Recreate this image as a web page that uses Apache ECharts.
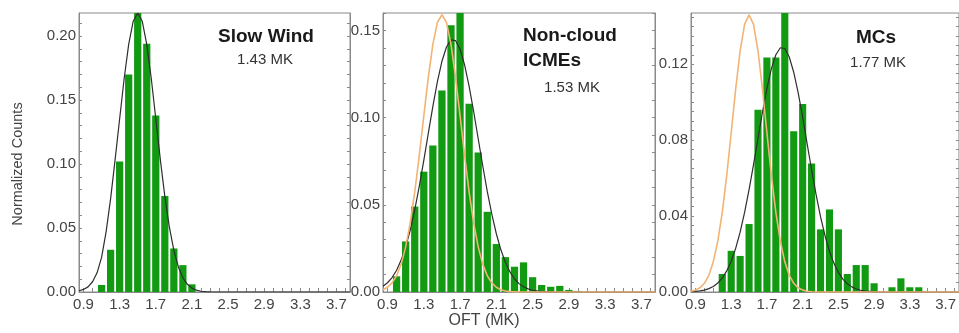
<!DOCTYPE html>
<html><head><meta charset="utf-8">
<script src="https://cdn.jsdelivr.net/npm/echarts@6/dist/echarts.min.js"></script>
<style>html,body{margin:0;padding:0;background:#fff}#c{width:959px;height:333px}</style>
</head><body><div id="c"></div>
<script>
// ---- data ----
const xTickLabels = [0.9, 1.3, 1.7, 2.1, 2.5, 2.9, 3.3, 3.7];
const yLabelsSlow = [0.00, 0.05, 0.10, 0.15, 0.20];
const yLabelsNC = [0.00, 0.05, 0.10, 0.15];
const yLabelsMC = [0.00, 0.04, 0.08, 0.12];

const slowBins = [1.1, 1.2, 1.3, 1.4, 1.5, 1.6, 1.7, 1.8, 1.9, 2.0, 2.1];
const slowCounts = [0.0055, 0.033, 0.102, 0.170, 0.225, 0.194, 0.138, 0.075, 0.034, 0.021, 0.006];

const ncBins = [1.0, 1.1, 1.2, 1.3, 1.4, 1.5, 1.6, 1.7, 1.8, 1.9, 2.0, 2.1, 2.2, 2.3, 2.4, 2.5, 2.6, 2.7, 2.8, 2.9, 3.0];
const ncCounts = [0.009, 0.029, 0.049, 0.069, 0.084, 0.1155, 0.153, 0.170, 0.108, 0.080, 0.046, 0.0275, 0.020, 0.0145, 0.017, 0.0085, 0.004, 0.003, 0.0035, 0.0012, 0.0006];

const mcBins = [1.2, 1.3, 1.4, 1.5, 1.6, 1.7, 1.8, 1.9, 2.0, 2.1, 2.2, 2.3, 2.4, 2.5, 2.6, 2.7, 2.8, 2.9, 3.0, 3.1, 3.2, 3.3, 3.4];
const mcCounts = [0.0095, 0.0217, 0.019, 0.0358, 0.096, 0.1235, 0.1235, 0.155, 0.0847, 0.099, 0.0677, 0.033, 0.0435, 0.033, 0.0095, 0.0142, 0.0142, 0.0046, 0, 0.0025, 0.0072, 0.0025, 0.0025];

const curveX = [0.85,0.90,0.95,1.00,1.05,1.10,1.15,1.20,1.25,1.30,1.35,1.40,1.45,1.50,1.55,1.60,1.65,1.70,1.75,1.80,1.85,1.90,1.95,2.00,2.05,2.10,2.15,2.20,2.25,2.30,2.35,2.40,2.45,2.50,2.55,2.60,2.65,2.70,2.75,2.80,2.85,2.90,3.85];
const slowFit = [0.001,0.002,0.004,0.008,0.015,0.027,0.047,0.073,0.1036,0.1354,0.1668,0.1935,0.2116,0.218,0.2116,0.1935,0.1668,0.1354,0.1036,0.0747,0.0508,0.0325,0.0196,0.0111,0.006,0.003,0.0014,0.0006,0.0003,0.0001,0,0,0,0,0,0,0,0,0,0,0,0,0];
const ncFit = [0.0033,0.0053,0.0083,0.0125,0.0183,0.0259,0.0354,0.0471,0.0606,0.0755,0.0911,0.1065,0.1206,0.1323,0.1405,0.1446,0.1442,0.1392,0.1302,0.1179,0.1035,0.0879,0.0724,0.0577,0.0446,0.0334,0.0242,0.0170,0.0115,0.0076,0.0048,0.0030,0.0018,0.0010,0.0006,0.0003,0.0002,0.0001,0,0,0,0,0];
const ncRef = [0.0013,0.0027,0.0052,0.0093,0.016,0.0259,0.0397,0.0573,0.0783,0.101,0.1232,0.142,0.1546,0.159,0.1546,0.142,0.1232,0.101,0.0783,0.0573,0.0397,0.0259,0.016,0.0093,0.0052,0.0027,0.0013,0.0006,0.0002,0.0001,0,0,0,0,0,0,0,0,0,0,0,0,0];
const mcFit = [0.0002,0.0003,0.0006,0.0010,0.0018,0.0029,0.0047,0.0074,0.0111,0.0162,0.0230,0.0315,0.0419,0.0539,0.0671,0.0810,0.0947,0.1073,0.1177,0.1250,0.1287,0.1283,0.1238,0.1158,0.1049,0.0921,0.0782,0.0644,0.0514,0.0397,0.0297,0.0215,0.0151,0.0103,0.0068,0.0043,0.0027,0.0016,0.0009,0.0005,0.0003,0.0001,0];
const mcRef = [0.0004,0.0010,0.0022,0.0046,0.0088,0.0159,0.0268,0.0420,0.0614,0.0839,0.1069,0.1271,0.1410,0.146,0.1410,0.1271,0.1069,0.0839,0.0614,0.0420,0.0268,0.0159,0.0088,0.0046,0.0022,0.0010,0.0004,0.0001,0,0,0,0,0,0,0,0,0,0,0,0,0,0,0];

// ---- styling ----
const FONT = '"Liberation Sans", Arial, sans-serif';
const GREEN = '#139a13';
const BLACK = '#2e2e2e';
const ORANGE = '#f2b474';
const AXIS = '#8a8a8a';
const BIN = 0.1;

function steps(a, b, s) { const o = []; for (let v = a; v <= b + 1e-9; v += s) o.push(Math.round(v * 1e4) / 1e4); return o; }
const xTickValues = steps(0.9, 3.8, 0.1);

const panels = [
  { left: 79, width: 271, max: 0.218, labels: yLabelsSlow, minor: steps(0, 0.21, 0.01), bins: slowBins, counts: slowCounts, curves: [[slowFit, BLACK]] },
  { left: 383, width: 272, max: 0.160, labels: yLabelsNC, minor: steps(0, 0.16, 0.01), bins: ncBins, counts: ncCounts, curves: [[ncFit, BLACK], [ncRef, ORANGE]] },
  { left: 691, width: 271, max: 0.147, labels: yLabelsMC, minor: steps(0, 0.145, 0.005), bins: mcBins, counts: mcCounts, curves: [[mcFit, BLACK], [mcRef, ORANGE]] }
];

const grid = [], xAxis = [], yAxis = [], series = [];
panels.forEach((p, i) => {
  grid.push({ left: p.left, top: 13, width: p.width, height: 279, show: true, borderColor: AXIS, borderWidth: 1, backgroundColor: 'transparent' });
  xAxis.push({
    type: 'value', gridIndex: i, min: 0.85, max: 3.85, position: 'bottom',
    axisLine: { show: true, onZero: false, lineStyle: { color: AXIS, width: 1 } },
    axisTick: { show: true, inside: true, length: 4, customValues: xTickValues, lineStyle: { color: AXIS } },
    axisLabel: { show: true, customValues: xTickLabels, formatter: v => v.toFixed(1), color: '#444', fontSize: 15, fontFamily: FONT, margin: 5 },
    splitLine: { show: false }
  });
  yAxis.push({
    type: 'value', gridIndex: i, min: 0, max: p.max, position: 'left',
    axisLine: { show: true, onZero: false, lineStyle: { color: AXIS, width: 1 } },
    axisTick: { show: true, inside: true, length: 3, customValues: p.minor, lineStyle: { color: AXIS } },
    axisLabel: { show: true, customValues: p.labels, formatter: v => v.toFixed(2), color: '#444', fontSize: 15, fontFamily: FONT, margin: 3 },
    splitLine: { show: false }
  });
  yAxis.push({
    type: 'value', gridIndex: i, min: 0, max: p.max, position: 'right',
    axisLine: { show: true, onZero: false, lineStyle: { color: AXIS, width: 1 } },
    axisTick: { show: true, inside: true, length: 3, customValues: p.minor, lineStyle: { color: AXIS } },
    axisLabel: { show: false },
    splitLine: { show: false }
  });
  series.push({
    type: 'custom', xAxisIndex: i, yAxisIndex: 2 * i,
    data: p.bins.map((b, k) => [b, p.counts[k]]),
    renderItem: function (params, api) {
      const x = api.value(0), y = api.value(1);
      const a = api.coord([x - BIN / 2, y]);
      const b = api.coord([x + BIN / 2, 0]);
      const gap = 1.8;
      const cs = params.coordSys;
      const r = echarts.graphic.clipRectByRect(
        { x: a[0] + gap / 2, y: a[1], width: b[0] - a[0] - gap, height: b[1] - a[1] },
        { x: cs.x, y: cs.y, width: cs.width, height: cs.height });
      return r ? { type: 'rect', shape: r, style: { fill: GREEN } } : null;
    },
    z: 2, silent: true
  });
  p.curves.forEach(([vals, col], k) => {
    series.push({
      type: 'line', xAxisIndex: i, yAxisIndex: 2 * i, showSymbol: false, symbol: 'none',
      data: curveX.map((x, j) => [x, vals[j]]),
      lineStyle: { color: col, width: col === ORANGE ? 1.6 : 1.2 },
      clip: true, z: col === ORANGE ? 4 : 3, silent: true
    });
  });
});

const graphic = [
  { type: 'text', x: 18, y: 164, rotation: Math.PI / 2, style: { text: 'Normalized Counts', font: '14.5px ' + FONT, fill: '#444', align: 'center', verticalAlign: 'middle' } },
  { type: 'text', x: 484, y: 321, style: { text: 'OFT (MK)', font: '16px ' + FONT, fill: '#444', align: 'center', verticalAlign: 'middle' } },
  { type: 'text', x: 266, y: 37, style: { text: 'Slow Wind', font: 'bold 19px ' + FONT, fill: '#1a1a1a', align: 'center', verticalAlign: 'middle' } },
  { type: 'text', x: 265, y: 60, style: { text: '1.43 MK', font: '15px ' + FONT, fill: '#333', align: 'center', verticalAlign: 'middle' } },
  { type: 'text', x: 523, y: 36, style: { text: 'Non-cloud', font: 'bold 19px ' + FONT, fill: '#1a1a1a', align: 'left', verticalAlign: 'middle' } },
  { type: 'text', x: 523, y: 61, style: { text: 'ICMEs', font: 'bold 19px ' + FONT, fill: '#1a1a1a', align: 'left', verticalAlign: 'middle' } },
  { type: 'text', x: 572, y: 88, style: { text: '1.53 MK', font: '15px ' + FONT, fill: '#333', align: 'center', verticalAlign: 'middle' } },
  { type: 'text', x: 876, y: 38, style: { text: 'MCs', font: 'bold 19px ' + FONT, fill: '#1a1a1a', align: 'center', verticalAlign: 'middle' } },
  { type: 'text', x: 878, y: 63, style: { text: '1.77 MK', font: '15px ' + FONT, fill: '#333', align: 'center', verticalAlign: 'middle' } }
];

const chart = echarts.init(document.getElementById('c'), null, { renderer: 'canvas' });
chart.setOption({ animation: false, backgroundColor: '#fff', grid, xAxis, yAxis, series, graphic });
</script>
</body></html>
